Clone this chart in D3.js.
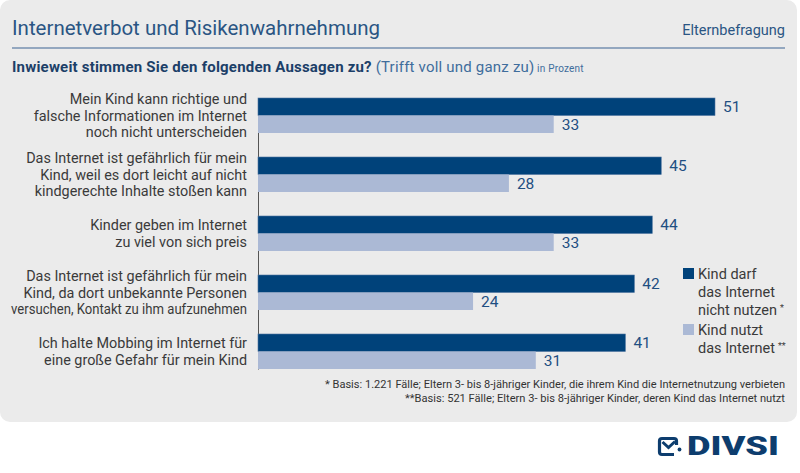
<!DOCTYPE html>
<meta charset="utf-8">
<style>
    body { margin: 0; background: #fff; }
    text { font-family: Roboto, "DejaVu Sans", sans-serif; }
</style>
<body>
<script src="https://d3js.org/d3.v7.min.js"></script>
<script>
    // data
    const categories = [
        ["Mein Kind kann richtige und", "falsche Informationen im Internet", "noch nicht unterscheiden"],
        ["Das Internet ist gefährlich für mein", "Kind, weil es dort leicht auf nicht", "kindgerechte Inhalte stoßen kann"],
        ["Kinder geben im Internet", "zu viel von sich preis"],
        ["Das Internet ist gefährlich für mein", "Kind, da dort unbekannte Personen", "versuchen, Kontakt zu ihm aufzunehmen"],
        ["Ich halte Mobbing im Internet für", "eine große Gefahr für mein Kind"]
    ];
    const verbotValues = [51, 45, 44, 42, 41];   // Kind darf das Internet nicht nutzen
    const nutztValues = [33, 28, 33, 24, 31];    // Kind nutzt das Internet
    const seriesNames = ["verbot", "nutzt"];
    const legendLabels = [
        {lines: ["Kind darf", "das Internet", "nicht nutzen"], mark: "*"},
        {lines: ["Kind nutzt", "das Internet"], mark: "**"}
    ];
    const footnotes = [
        "* Basis: 1.221 Fälle; Eltern 3- bis 8-jähriger Kinder, die ihrem Kind die Internetnutzung verbieten",
        "**Basis: 521 Fälle; Eltern 3- bis 8-jähriger Kinder, deren Kind das Internet nutzt"
    ];

    const colors = {verbot: "#00427a", nutzt: "#abb9d5"};
    const W = 800, H = 473;

    const svg = d3.select("body").append("svg")
        .attr("width", W)
        .attr("height", H);

    // grey panel
    svg.append("rect")
        .attr("x", 0).attr("y", 0)
        .attr("width", 797).attr("height", 422)
        .attr("rx", 10)
        .attr("fill", "#ebebeb");

    // header
    svg.append("text")
        .attr("x", 12).attr("y", 35)
        .attr("font-size", 20)
        .attr("fill", "#2a5583")
        .attr("textLength", 368)
        .attr("lengthAdjust", "spacingAndGlyphs")
        .text("Internetverbot und Risikenwahrnehmung");

    svg.append("text")
        .attr("x", 785).attr("y", 35)
        .attr("text-anchor", "end")
        .attr("font-size", 14.5)
        .attr("fill", "#2a5583")
        .text("Elternbefragung");

    svg.append("line")
        .attr("x1", 12).attr("x2", 785)
        .attr("y1", 48).attr("y2", 48)
        .attr("stroke", "#93a7bf")
        .attr("stroke-width", 2);

    const sub = svg.append("text")
        .attr("x", 12).attr("y", 72)
        .attr("font-size", 15)
        .attr("letter-spacing", 0.2);
    sub.append("tspan")
        .attr("font-weight", "bold")
        .attr("fill", "#1c3f68")
        .text("Inwieweit stimmen Sie den folgenden Aussagen zu?");
    sub.append("tspan")
        .attr("fill", "#3f6d9c")
        .text(" (Trifft voll und ganz zu)");
    sub.append("tspan")
        .attr("font-size", 10)
        .attr("fill", "#3f6d9c")
        .text(" in Prozent");

    // scales
    const x = d3.scaleLinear().domain([0, 51]).range([258, 715]);
    const y = d3.scaleBand()
        .domain(d3.range(categories.length))
        .range([98, 369])
        .paddingInner(24 / 59)
        .paddingOuter(0);
    const ySub = d3.scaleBand()
        .domain(seriesNames)
        .range([0, y.bandwidth()]);

    // axis line only
    const axis = svg.append("g")
        .attr("transform", "translate(258,0)")
        .call(d3.axisLeft(y).tickSize(0).tickFormat(""));
    axis.select(".domain").attr("stroke", "#555").attr("stroke-width", 1);

    const rows = categories.map((c, i) => ({
        i: i, lines: c,
        values: [{key: "verbot", v: verbotValues[i]}, {key: "nutzt", v: nutztValues[i]}]
    }));

    const group = svg.selectAll(".row")
        .data(rows)
      .enter().append("g")
        .attr("class", "row")
        .attr("transform", d => "translate(0," + y(d.i) + ")");

    group.selectAll("rect")
        .data(d => d.values)
      .enter().append("rect")
        .attr("x", x(0))
        .attr("y", d => ySub(d.key))
        .attr("width", d => x(d.v) - x(0))
        .attr("height", ySub.bandwidth())
        .attr("fill", d => colors[d.key])
        .attr("stroke", d => d.key == "verbot" ? "#4d74a0" : "none")
        .attr("stroke-width", 0.6);

    group.selectAll(".val")
        .data(d => d.values)
      .enter().append("text")
        .attr("class", "val")
        .attr("x", d => x(d.v) + 8)
        .attr("y", d => ySub(d.key) + ySub.bandwidth() / 2 + 5.5)
        .attr("font-size", 15.5)
        .attr("fill", "#1f4f82")
        .text(d => d.v);

    // category labels, multi-line, centred on the group
    group.each(function(d) {
        const n = d.lines.length;
        const mid = y.bandwidth() / 2;
        d3.select(this).append("text")
            .attr("text-anchor", "end")
            .attr("font-size", 14.4)
            .attr("fill", "#3a3a3a")
          .selectAll("tspan")
            .data(d.lines)
          .enter().append("tspan")
            .attr("x", 247)
            .attr("y", (l, j) => mid + 5 + (j - (n - 1) / 2) * 16.5)
            .text(l => l)
            .each(function() {
                // keep very long lines inside the panel
                if (this.getComputedTextLength() > 236) {
                    d3.select(this)
                        .attr("textLength", 236)
                        .attr("lengthAdjust", "spacingAndGlyphs");
                }
            });
    });

    // legend
    const legend = svg.append("g");
    let ly = 268;
    legendLabels.forEach((l, k) => {
        legend.append("rect")
            .attr("x", 683).attr("y", ly)
            .attr("width", 11).attr("height", 11)
            .attr("fill", colors[seriesNames[k]]);
        const t = legend.append("text")
            .attr("font-size", 14.5)
            .attr("fill", "#3a3a3a");
        l.lines.forEach((line, j) => {
            t.append("tspan")
                .attr("x", 698)
                .attr("y", ly + 11 + j * 18)
                .text(line);
            if (j == l.lines.length - 1) {
                t.append("tspan")
                    .attr("dx", 3)
                    .attr("dy", -4)
                    .attr("font-size", 9)
                    .text(l.mark);
            }
        });
        ly += l.lines.length * 18 + 2;
    });

    // footnotes
    const footWidths = [460, 380];
    svg.selectAll(".foot")
        .data(footnotes)
      .enter().append("text")
        .attr("class", "foot")
        .attr("x", 785)
        .attr("y", (d, i) => 388 + i * 14)
        .attr("text-anchor", "end")
        .attr("font-size", 10.5)
        .attr("fill", "#333")
        .attr("textLength", (d, i) => footWidths[i])
        .attr("lengthAdjust", "spacingAndGlyphs")
        .text(d => d);

    // DIVSI logo
    const logo = svg.append("g").attr("fill", "none").attr("stroke", "#0d3d6e");
    logo.append("path")
        .attr("d", "M676.5,445 V441 Q676.5,438.5 674,438.5 H662 Q659.5,438.5 659.5,441 V452 Q659.5,454.5 662,454.5 H674")
        .attr("stroke-width", 3.2);
    logo.append("path")
        .attr("d", "M662.5,442 L668.5,447.5 L675,441.5")
        .attr("stroke-width", 3);
    logo.append("circle")
        .attr("cx", 679.5).attr("cy", 449.5).attr("r", 1.9)
        .attr("fill", "#0d3d6e").attr("stroke", "none");
    svg.append("text")
        .attr("x", 687).attr("y", 455)
        .attr("font-size", 26)
        .attr("font-weight", 900)
        .attr("fill", "#0d3d6e")
        .attr("textLength", 92)
        .attr("lengthAdjust", "spacingAndGlyphs")
        .text("DIVSI");
</script>
</body>
